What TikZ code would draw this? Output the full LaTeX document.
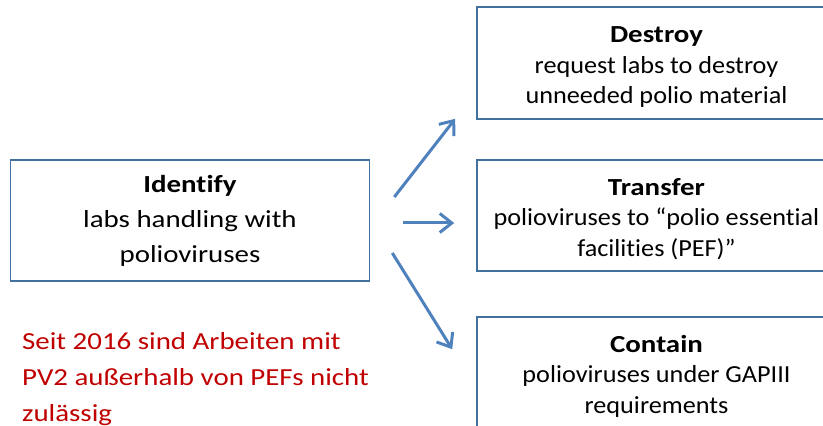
\documentclass[tikz,border=0pt]{standalone}
\usepackage{fontspec}
\setmainfont{Carlito}[Ligatures=NoCommon, FakeStretch=1.18]
\newfontfamily\boxbody{Carlito}[Ligatures=NoCommon, FakeStretch=1.07]
\usepackage{tikz}
\usetikzlibrary{positioning,arrows.meta,calc}
\definecolor{boxline}{RGB}{65,113,156}
\definecolor{arrowblue}{RGB}{79,129,189}
\definecolor{notered}{RGB}{192,0,0}
% title line of the right boxes, a little lower
\newcommand{\boxtitle}[1]{\rule{0pt}{24pt}{\normalfont\bfseries #1}}

\begin{document}
\begin{tikzpicture}[x=1pt,y=1pt,
    box/.style={draw=boxline, line width=1.6pt, minimum width=359pt, align=center,
      inner sep=0pt, font=\boxbody\fontsize{24.5}{30.5}\selectfont},
    flow/.style={draw=arrowblue, line width=3pt, -{Straight Barb[length=12pt,width=19pt]}}]
  \useasboundingbox (0,0) rectangle (823,426);
  \clip (0,0) rectangle (823,426);

  \node[box, minimum height=121pt, font=\normalfont\fontsize{24.5}{35}\selectfont] (identify) at (190,205.5)
    {\textbf{Identify}\\labs handling with\\polioviruses};
  \node[box, minimum height=112pt] (destroy) at (656.5,363) {\boxtitle{Destroy}\\request labs to destroy\\unneeded polio material};
  \node[box, minimum height=111pt] (transfer) at (656.5,210.5) {\boxtitle{Transfer}\\polioviruses to “polio essential\\facilities (PEF)”};
  \node[box, minimum height=111pt] (contain) at (656.5,53.5) {\boxtitle{Contain}\\polioviruses under GAPIII\\requirements};

  \node[anchor=north west, align=left, inner sep=0pt, text=notered,
    font=\fontsize{24.5}{36}\selectfont] (note) at (22,94)
    {Seit 2016 sind Arbeiten mit\\PV2 außerhalb von PEFs nicht\\zulässig};

  \draw[flow] ($(identify.east)+(24,23.5)$) -- ($(destroy.south west)+(-21,1)$);
  \draw[flow] ($(identify.east)+(33,-2.5)$) -- ($(transfer.west)+(-22,-7.5)$);
  \draw[flow] ($(identify.east)+(22,-32.5)$) -- ($(contain.north west)+(-24,-33)$);
\end{tikzpicture}
\end{document}
